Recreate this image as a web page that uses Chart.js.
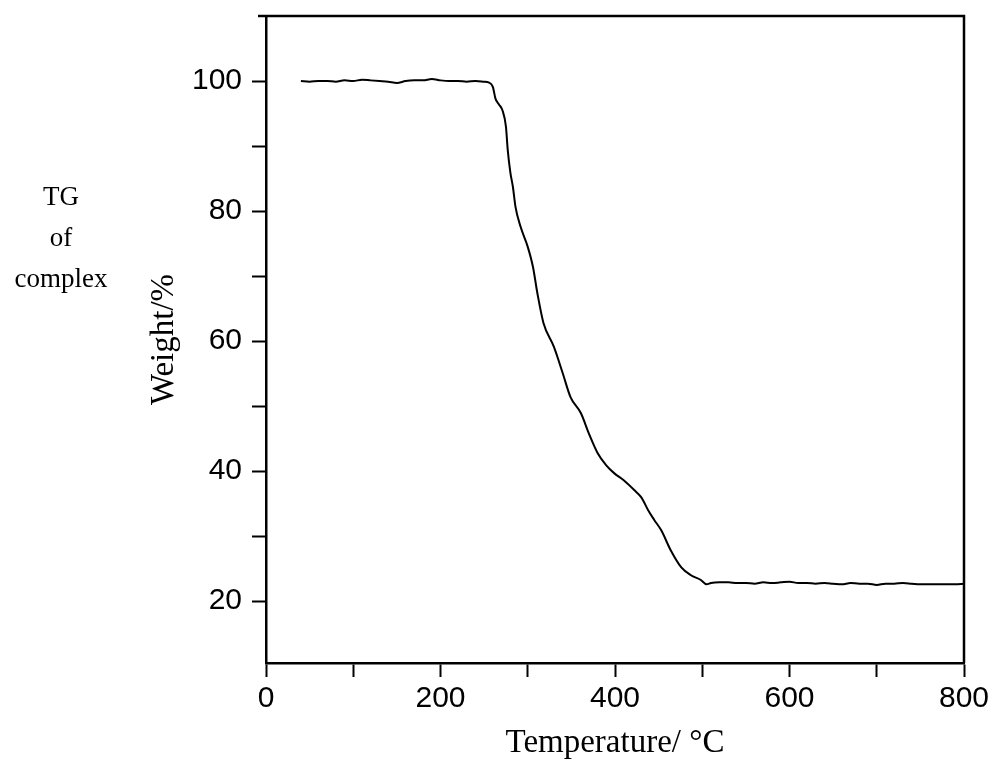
<!DOCTYPE html>
<html>
<head>
<meta charset="utf-8">
<script src="https://cdn.jsdelivr.net/npm/chart.js@4.4.0/dist/chart.umd.min.js"></script>
<style>
  html, body { margin: 0; padding: 0; background: #fff; }
  #wrap { width: 996px; height: 770px; }
</style>
</head>
<body>
<div id="wrap"><canvas id="tg-chart" width="996" height="770"></canvas></div>
<script>
// TG curve: temperature (°C) vs remaining weight (%)
const temps = [40, 50, 60, 70, 80, 90, 100, 110, 120, 130, 140, 150, 160, 170, 180, 190, 200,
    210, 220, 230, 240, 250, 255, 260, 263, 267, 271, 275, 277, 280, 283, 286, 292, 300, 306,
    311, 318, 330, 340, 349, 361, 370, 380, 390, 399, 410, 422, 430, 438, 445, 453, 464, 476,
    487, 498, 505, 510, 520, 530, 540, 550, 560, 570, 580, 590, 600, 610, 620, 630, 640, 650,
    660, 670, 680, 690, 700, 710, 720, 730, 740, 750, 760, 770, 780, 790, 800];
const weights = [100.0, 99.9, 100.0, 100.0, 99.9, 100.1, 100.0, 100.2, 100.1, 100.0, 99.9, 99.7,
    100.0, 100.1, 100.1, 100.3, 100.1, 100.0, 100.0, 99.9, 100.0, 99.9, 99.8, 99.1, 97.3, 96.4,
    95.5, 93.0, 89.5, 86.0, 83.7, 80.6, 77.5, 74.5, 71.4, 67.4, 62.8, 59.1, 55.1, 51.4, 48.9,
    45.8, 42.8, 40.9, 39.7, 38.6, 37.1, 36.0, 34.0, 32.5, 30.9, 27.8, 25.2, 24.0, 23.3, 22.6,
    22.8, 22.9, 22.9, 22.8, 22.8, 22.7, 22.9, 22.8, 22.9, 23.0, 22.8, 22.8, 22.7, 22.8, 22.7,
    22.6, 22.8, 22.7, 22.7, 22.5, 22.7, 22.7, 22.8, 22.7, 22.6, 22.6, 22.6, 22.6, 22.6, 22.7];

// tick positions (labels only on every other one)
const xTicks = [0, 100, 200, 300, 400, 500, 600, 700, 800];
const yTicks = [20, 30, 40, 50, 60, 70, 80, 90, 100];
const sideNote = ['TG', 'of', 'complex'];

const points = temps.map((t, i) => ({ x: t, y: weights[i] }));

// closes the box on top/right and writes the side note
const framePlugin = {
    id: 'frame',
    afterDraw(chart) {
        const { ctx, chartArea } = chart;
        ctx.save();
        ctx.strokeStyle = '#000';
        ctx.lineWidth = 2.5;
        ctx.beginPath();
        ctx.moveTo(chartArea.left - 8, chartArea.top);
        ctx.lineTo(chartArea.right, chartArea.top);
        ctx.lineTo(chartArea.right, chartArea.bottom);
        ctx.stroke();

        ctx.fillStyle = '#000';
        ctx.font = '27px "Liberation Serif"';
        ctx.textAlign = 'center';
        ctx.textBaseline = 'alphabetic';
        sideNote.forEach((line, i) => {
            ctx.fillText(line, 61, 205 + i * 41);
        });
        ctx.restore();
    }
};

const tickGrid = {
    display: true,
    drawOnChartArea: false,
    drawTicks: true,
    tickLength: 14,
    tickWidth: 2,
    tickColor: '#000'
};

// no extra room for edge labels, the layout padding already has it
function noEdgePad(scale) {
    scale.paddingTop = 0;
    scale.paddingBottom = 0;
    scale.paddingLeft = 0;
    scale.paddingRight = 0;
}

const ctx = document.getElementById('tg-chart').getContext('2d');
new Chart(ctx, {
    type: 'scatter',
    data: {
        datasets: [{
            label: 'TG',
            data: points,
            showLine: true,
            borderColor: '#000',
            borderWidth: 2,
            pointRadius: 0,
            cubicInterpolationMode: 'monotone',
            fill: false
        }]
    },
    options: {
        responsive: false,
        animation: false,
        devicePixelRatio: 1,
        layout: { padding: { left: 140, top: 16, right: 32, bottom: 7 } },
        plugins: {
            legend: { display: false },
            tooltip: { enabled: false }
        },
        scales: {
            x: {
                type: 'linear',
                min: 0,
                max: 800,
                afterBuildTicks: (scale) => { scale.ticks = xTicks.map(v => ({ value: v })); },
                afterFit: (scale) => { scale.height = 100; noEdgePad(scale); },
                ticks: {
                    callback: (v) => (v % 200 === 0 ? v : ''),
                    color: '#000',
                    padding: 4,
                    maxRotation: 0,
                    autoSkip: false,
                    font: { family: '"Liberation Sans"', size: 30 }
                },
                grid: tickGrid,
                border: { display: true, color: '#000', width: 2.5 },
                title: {
                    display: true,
                    text: 'Temperature/ °C',
                    color: '#000',
                    padding: { top: 0, bottom: 0 },
                    font: { family: '"Liberation Serif"', size: 33, lineHeight: 1.2 }
                }
            },
            y: {
                type: 'linear',
                min: 10.5,
                max: 110,
                afterBuildTicks: (scale) => { scale.ticks = yTicks.map(v => ({ value: v })); },
                afterFit: (scale) => { scale.width = 126; noEdgePad(scale); },
                ticks: {
                    callback: (v) => (v % 20 === 0 ? v : ''),
                    color: '#000',
                    padding: 10,
                    autoSkip: false,
                    font: { family: '"Liberation Sans"', size: 30 }
                },
                grid: tickGrid,
                border: { display: true, color: '#000', width: 2.5 },
                title: {
                    display: true,
                    text: 'Weight/%',
                    color: '#000',
                    padding: { top: 5, bottom: 0 },
                    font: { family: '"Liberation Serif"', size: 33, lineHeight: 1.2 }
                }
            }
        }
    },
    plugins: [framePlugin]
});
</script>
</body>
</html>
